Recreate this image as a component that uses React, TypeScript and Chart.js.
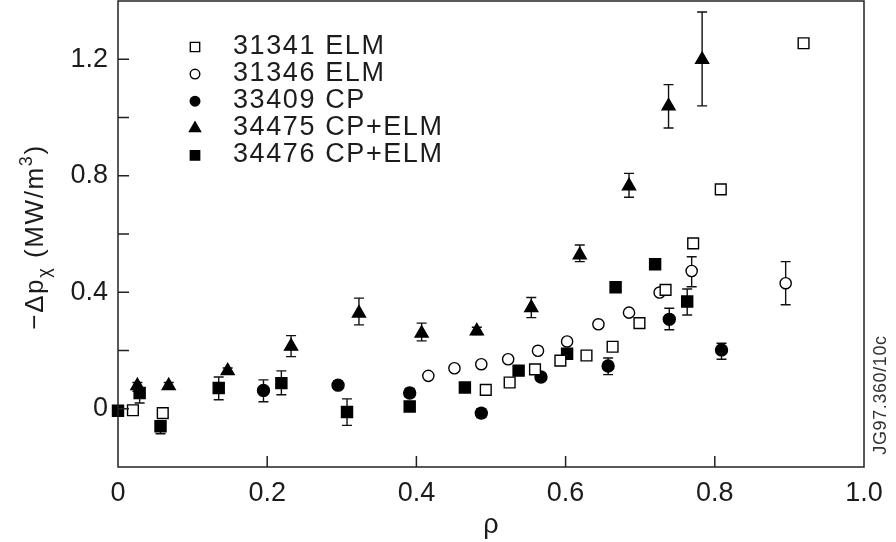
import React, { useEffect, useRef } from "react";
import { Chart, registerables } from "chart.js";

Chart.register(...registerables);

const FONT = '"Liberation Sans", Arial, Helvetica, sans-serif';
const INK = "#1c1c1c";

// ---- data ----
const seriesLabels = ["31341 ELM", "31346 ELM", "33409 CP", "34475 CP+ELM", "34476 CP+ELM"];

const xTickLabels = ["0", "0.2", "0.4", "0.6", "0.8", "1.0"];
const yTickLabels = ["0", "0.4", "0.8", "1.2"];

// 31341 ELM (open squares)
const rho31341 = [0.02, 0.06, 0.493, 0.525, 0.559, 0.593, 0.628, 0.663, 0.699, 0.734, 0.771, 0.808, 0.919];
const dp31341 = [-0.005, -0.015, 0.065, 0.09, 0.135, 0.165, 0.183, 0.213, 0.294, 0.408, 0.568, 0.753, 1.255];

// 31346 ELM (open circles)
const rho31346 = [0.416, 0.451, 0.487, 0.523, 0.563, 0.602, 0.644, 0.685, 0.726, 0.769, 0.895];
const dp31346 = [0.113, 0.139, 0.153, 0.17, 0.199, 0.231, 0.29, 0.33, 0.399, 0.473, 0.431];
const lo31346 = [null, null, null, null, null, null, null, null, null, 0.419, 0.357];
const hi31346 = [null, null, null, null, null, null, null, null, null, 0.522, 0.505];

// 33409 CP (filled circles)
const rho33409 = [0.195, 0.295, 0.391, 0.487, 0.567, 0.657, 0.739, 0.809];
const dp33409 = [0.063, 0.081, 0.054, -0.015, 0.109, 0.147, 0.307, 0.202];
const lo33409 = [0.024, 0.068, 0.04, -0.03, null, 0.117, 0.271, 0.17];
const hi33409 = [0.099, 0.095, 0.07, 0.0, null, 0.174, 0.345, 0.225];

// 34475 CP+ELM (filled triangles)
const rho34475 = [0.026, 0.068, 0.147, 0.232, 0.323, 0.407, 0.481, 0.554, 0.619, 0.685, 0.738, 0.783];
const dp34475 = [0.079, 0.079, 0.13, 0.214, 0.328, 0.259, 0.267, 0.347, 0.528, 0.765, 1.039, 1.199];
const lo34475 = [0.06, 0.07, 0.12, 0.179, 0.288, 0.233, 0.255, 0.313, 0.505, 0.726, 0.964, 1.04];
const hi34475 = [0.09, 0.09, 0.14, 0.251, 0.38, 0.294, 0.28, 0.382, 0.562, 0.808, 1.113, 1.362];

// 34476 CP+ELM (filled squares)
const rho34476 = [0.0, 0.029, 0.057, 0.135, 0.219, 0.307, 0.391, 0.465, 0.537, 0.602, 0.667, 0.72, 0.763];
const dp34476 = [-0.007, 0.054, -0.06, 0.071, 0.088, -0.011, 0.008, 0.073, 0.131, 0.189, 0.417, 0.496, 0.368];
const lo34476 = [null, 0.02, -0.086, 0.031, 0.048, -0.057, -0.005, 0.06, 0.12, 0.175, 0.405, 0.48, 0.322];
const hi34476 = [null, 0.07, -0.045, 0.109, 0.13, 0.034, 0.02, 0.085, 0.145, 0.205, 0.43, 0.515, 0.411];

type P = { x: number; y: number; lo: number | null; hi: number | null };
function pts(xs: number[], ys: number[], lo?: (number | null)[], hi?: (number | null)[]): P[] {
  return xs.map((x, i) => ({ x, y: ys[i], lo: lo ? lo[i] : null, hi: hi ? hi[i] : null }));
}

const markerDefs = [
  { style: "rect", radius: 7.6, fill: false },
  { style: "circle", radius: 5.6, fill: false },
  { style: "circle", radius: 6, fill: true },
  { style: "triangle", radius: 7.5, fill: true },
  { style: "rect", radius: 7.8, fill: true },
];

function drawMarker(ctx: CanvasRenderingContext2D, style: string, fill: boolean, x: number, y: number, r: number) {
  ctx.beginPath();
  if (style === "rect") {
    const s = r * Math.SQRT1_2;
    ctx.rect(x - s, y - s, 2 * s, 2 * s);
  } else if (style === "circle") {
    ctx.arc(x, y, r, 0, Math.PI * 2);
  } else {
    ctx.moveTo(x, y - r);
    ctx.lineTo(x + r * Math.sin((2 * Math.PI) / 3), y - r * Math.cos((2 * Math.PI) / 3));
    ctx.lineTo(x + r * Math.sin((4 * Math.PI) / 3), y - r * Math.cos((4 * Math.PI) / 3));
    ctx.closePath();
  }
  ctx.fillStyle = fill ? "#000" : "#fff";
  ctx.fill();
  ctx.lineWidth = 1.4;
  ctx.strokeStyle = "#000";
  ctx.stroke();
}

const errorBarPlugin = {
  id: "errorBars",
  beforeDatasetsDraw(chart: any) {
    const { ctx, scales } = chart;
    const xs = scales.x, ys = scales.y;
    ctx.save();
    ctx.strokeStyle = "#111";
    ctx.lineWidth = 1.4;
    chart.data.datasets.forEach((ds: any) => {
      ds.data.forEach((p: P) => {
        if (p.lo == null || p.hi == null) return;
        const px = xs.getPixelForValue(p.x);
        const y1 = ys.getPixelForValue(p.lo);
        const y2 = ys.getPixelForValue(p.hi);
        ctx.beginPath();
        ctx.moveTo(px, y1);
        ctx.lineTo(px, y2);
        ctx.moveTo(px - 5, y1);
        ctx.lineTo(px + 5, y1);
        ctx.moveTo(px - 5, y2);
        ctx.lineTo(px + 5, y2);
        ctx.stroke();
      });
    });
    ctx.restore();
  },
};

const framePlugin = {
  id: "frame",
  afterDraw(chart: any) {
    const { ctx, chartArea: a, scales } = chart;
    ctx.save();
    ctx.strokeStyle = "#222";
    ctx.lineWidth = 1.5;
    ctx.strokeRect(a.left, a.top, a.right - a.left, a.bottom - a.top);
    // inward ticks every 0.2
    ctx.beginPath();
    for (let k = 0; k <= 6; k++) {
      const py = scales.y.getPixelForValue(k * 0.2);
      ctx.moveTo(a.left, py);
      ctx.lineTo(a.left + 11, py);
    }
    for (let k = 1; k <= 4; k++) {
      const px = scales.x.getPixelForValue(k * 0.2);
      ctx.moveTo(px, a.bottom);
      ctx.lineTo(px, a.bottom - 11);
    }
    ctx.stroke();

    // legend
    const lx = 195, tx = 233, y0 = 47, step = 27.1;
    ctx.save();
    (ctx as any).letterSpacing = "1.6px";
    chart.data.datasets.forEach((ds: any, i: number) => {
      const m = markerDefs[i];
      const cy = y0 + i * step;
      const r = m.style === "rect" ? 6.6 : m.style === "triangle" ? 6.4 : 4.8;
      drawMarker(ctx, m.style, m.fill, lx, cy, r);
      ctx.fillStyle = INK;
      ctx.font = `27px ${FONT}`;
      ctx.textAlign = "left";
      ctx.textBaseline = "alphabetic";
      ctx.fillText(ds.label, tx, cy + 6.5);
    });
    ctx.restore();

    // y title
    ctx.save();
    ctx.translate(43, 237);
    ctx.rotate(-Math.PI / 2);
    ctx.fillStyle = INK;
    ctx.textBaseline = "alphabetic";
    ctx.textAlign = "left";
    (ctx as any).letterSpacing = "1.6px";
    const big = `26px ${FONT}`, small = `18px ${FONT}`;
    const parts = [
      { t: "\u2212\u0394p", f: big, dy: 0 },
      { t: "\u03c7", f: small, dy: 7 },
      { t: " (MW/m", f: big, dy: 0 },
      { t: "3", f: small, dy: -11 },
      { t: ")", f: big, dy: 0 },
    ];
    let total = 0;
    parts.forEach((p) => { ctx.font = p.f; total += ctx.measureText(p.t).width; });
    let cx = -total / 2;
    parts.forEach((p) => {
      ctx.font = p.f;
      ctx.fillText(p.t, cx, p.dy);
      cx += ctx.measureText(p.t).width;
    });
    ctx.restore();

    // x title
    ctx.fillStyle = INK;
    ctx.font = `27px ${FONT}`;
    ctx.textAlign = "center";
    ctx.textBaseline = "alphabetic";
    ctx.fillText("\u03c1", (a.left + a.right) / 2, 533);

    // side code
    ctx.save();
    ctx.translate(886, 395);
    ctx.rotate(-Math.PI / 2);
    ctx.font = `18px ${FONT}`;
    (ctx as any).letterSpacing = "0.6px";
    ctx.textAlign = "center";
    ctx.textBaseline = "alphabetic";
    ctx.fillStyle = "#333";
    ctx.fillText("JG97.360/10c", 0, 0);
    ctx.restore();

    ctx.restore();
  },
};

function near(v: number, t: number) {
  return Math.abs(v - t) < 1e-6;
}

export default function App() {
  const ref = useRef<HTMLCanvasElement | null>(null);
  useEffect(() => {
    if (!ref.current) return;
    const data = [
      pts(rho31341, dp31341),
      pts(rho31346, dp31346, lo31346, hi31346),
      pts(rho33409, dp33409, lo33409, hi33409),
      pts(rho34475, dp34475, lo34475, hi34475),
      pts(rho34476, dp34476, lo34476, hi34476),
    ];
    const chart = new Chart(ref.current, {
      type: "scatter",
      data: {
        datasets: data.map((d, i) => ({
          label: seriesLabels[i],
          data: d,
          pointStyle: markerDefs[i].style as any,
          pointRadius: markerDefs[i].radius,
          pointHoverRadius: markerDefs[i].radius,
          pointBackgroundColor: markerDefs[i].fill ? "#000" : "#fff",
          pointBorderColor: "#000",
          pointBorderWidth: 1.4,
          showLine: false,
          clip: false as any,
        })),
      },
      options: {
        animation: false,
        responsive: false,
        events: [],
        layout: { autoPadding: false, padding: { top: 1, right: 32, left: 0, bottom: 0 } },
        plugins: { legend: { display: false }, tooltip: { enabled: false } },
        scales: {
          x: {
            type: "linear",
            min: 0,
            max: 1,
            ticks: {
              stepSize: 0.2,
              padding: 10,
              color: INK,
              font: { family: FONT, size: 27 },
              maxRotation: 0,
              callback: (v: any) => {
                const idx = Math.round(Number(v) / 0.2);
                return near(Number(v), idx * 0.2) ? xTickLabels[idx] ?? null : null;
              },
            },
            grid: { display: false, drawTicks: false },
            border: { display: false },
            afterFit: (s: any) => { s.height = 75; s.paddingLeft = 0; s.paddingRight = 0; },
          },
          y: {
            type: "linear",
            min: -0.2,
            max: 1.4,
            ticks: {
              stepSize: 0.2,
              padding: 10,
              color: INK,
              font: { family: FONT, size: 27 },
              callback: (v: any) => {
                const n = Number(v);
                const idx = Math.round(n / 0.4);
                if (idx < 0 || idx >= yTickLabels.length) return null;
                return near(n, idx * 0.4) ? yTickLabels[idx] : null;
              },
            },
            grid: { display: false, drawTicks: false },
            border: { display: false },
            afterFit: (s: any) => { s.width = 118; s.paddingTop = 0; s.paddingBottom = 0; },
          },
        },
      },
      plugins: [errorBarPlugin, framePlugin],
    });
    return () => chart.destroy();
  }, []);
  return (
    <div style={{ position: "fixed", left: 0, top: 0, width: 896, height: 542, background: "#fff" }}>
      <canvas ref={ref} width={896} height={542} />
    </div>
  );
}
